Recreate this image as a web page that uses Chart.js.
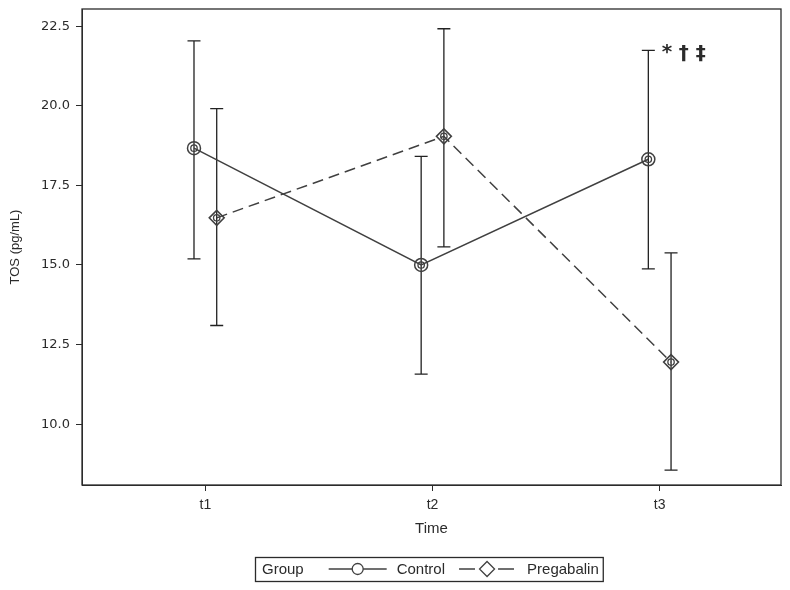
<!DOCTYPE html>
<html>
<head>
<meta charset="utf-8">
<script src="https://cdn.jsdelivr.net/npm/chart.js@4.4.1/dist/chart.umd.min.js"></script>
<style>
  html, body { margin: 0; padding: 0; background: #fff; }
</style>
</head>
<body>
<canvas id="chart" width="790" height="590"></canvas>
<script>
// ── Data ──────────────────────────────────────────────────────────────────────
const TIMES = ['t1', 't2', 't3'];
const CONTROL_MEAN = [18.67, 15.00, 18.32];
const CONTROL_LOW  = [15.19, 11.57, 14.88];
const CONTROL_HIGH = [22.04, 18.41, 21.74];
const PREGA_MEAN   = [16.48, 19.04, 11.95];
const PREGA_LOW    = [13.10, 15.57, 8.56];
const PREGA_HIGH   = [19.91, 22.42, 15.38];
const Y_TICKS      = [10.0, 12.5, 15.0, 17.5, 20.0, 22.5];
const SIG_MARKS    = ['*', '†', '‡'];   // shown above Control at t3
const SIG_INDEX    = 2;
const DODGE        = 0.05;              // group offset on the time axis

const INK   = '#2b2b2b';
const LINE  = '#404040';
const SANS  = '"Liberation Sans", Arial, sans-serif';

const pts = (arr, off) => arr.map((y, i) => ({ x: i + 1 + off, y }));

const series = [
    { label: 'Control',    mean: CONTROL_MEAN, low: CONTROL_LOW, high: CONTROL_HIGH, off: -DODGE },
    { label: 'Pregabalin', mean: PREGA_MEAN,   low: PREGA_LOW,   high: PREGA_HIGH,   off:  DODGE },
];

// ── Error bars (drawn under the markers) ──────────────────────────────────────
const errorBars = {
    id: 'errorBars',
    beforeDatasetsDraw(chart) {
        const { ctx, scales: { x, y } } = chart;
        ctx.save();
        ctx.strokeStyle = '#222';
        ctx.lineWidth = 1.3;
        series.forEach(s => {
            s.mean.forEach((_, i) => {
                const px = x.getPixelForValue(i + 1 + s.off);
                const top = y.getPixelForValue(s.high[i]);
                const bot = y.getPixelForValue(s.low[i]);
                ctx.beginPath();
                ctx.moveTo(px, top); ctx.lineTo(px, bot);
                ctx.moveTo(px - 6.5, top); ctx.lineTo(px + 6.5, top);
                ctx.moveTo(px - 6.5, bot); ctx.lineTo(px + 6.5, bot);
                ctx.stroke();
            });
        });
        ctx.restore();
    },
    afterDatasetsDraw(chart) {
        // inner ring inside every marker
        const ctx = chart.ctx;
        ctx.save();
        ctx.strokeStyle = LINE;
        ctx.lineWidth = 1.3;
        [0, 1].forEach(di => {
            chart.getDatasetMeta(di).data.forEach(p => {
                ctx.beginPath();
                ctx.arc(p.x, p.y, 3.2, 0, Math.PI * 2);
                ctx.stroke();
            });
        });
        ctx.restore();
    }
};

// ── Frame, significance marks and group legend ────────────────────────────────
const decorations = {
    id: 'decorations',
    afterDraw(chart) {
        const { ctx, chartArea: a, scales: { x, y } } = chart;
        ctx.save();

        ctx.strokeStyle = INK;
        ctx.lineWidth = 1.3;
        ctx.strokeRect(a.left, a.top, a.right - a.left, a.bottom - a.top);

        // significance marks
        ctx.fillStyle = INK;
        ctx.font = 'bold 20px "DejaVu Sans", sans-serif';
        ctx.textBaseline = 'middle';
        let sx = x.getPixelForValue(SIG_INDEX + 1) + 2;
        const sy = y.getPixelForValue(CONTROL_HIGH[SIG_INDEX]) + 3;
        SIG_MARKS.forEach(m => {
            ctx.fillText(m, sx, m === '*' ? sy - 1 : sy);
            sx += 17;
        });

        // legend
        ctx.font = '15px ' + SANS;
        ctx.fillStyle = INK;
        const wG = ctx.measureText('Group').width;
        const wC = ctx.measureText('Control').width;
        const wP = ctx.measureText('Pregabalin').width;
        const total = 7 + wG + 25 + 58 + 10 + wC + 14 + 55 + 13 + wP + 4;
        const bx = Math.round((a.left + a.right) / 2 - total / 2) - 3;
        const by = 557, bh = 24, cy = by + bh / 2;
        ctx.lineWidth = 1.3;
        ctx.strokeRect(bx + 0.5, by + 0.5, total, bh);

        let cx = bx + 7;
        ctx.fillText('Group', cx, cy + 1);
        cx += wG + 25;

        ctx.strokeStyle = LINE;
        ctx.beginPath(); ctx.moveTo(cx, cy); ctx.lineTo(cx + 58, cy); ctx.stroke();
        ctx.fillStyle = '#fff';
        ctx.beginPath(); ctx.arc(cx + 29, cy, 5.5, 0, Math.PI * 2); ctx.fill(); ctx.stroke();
        cx += 58 + 10;
        ctx.fillStyle = INK;
        ctx.fillText('Control', cx, cy + 1);
        cx += wC + 14;

        ctx.beginPath();
        ctx.moveTo(cx, cy); ctx.lineTo(cx + 16, cy);
        ctx.moveTo(cx + 39, cy); ctx.lineTo(cx + 55, cy);
        ctx.stroke();
        const dx = cx + 28;
        ctx.beginPath();
        ctx.moveTo(dx, cy - 7.5); ctx.lineTo(dx + 7.5, cy); ctx.lineTo(dx, cy + 7.5); ctx.lineTo(dx - 7.5, cy);
        ctx.closePath(); ctx.stroke();
        cx += 55 + 13;
        ctx.fillText('Pregabalin', cx, cy + 1);

        ctx.restore();
    }
};

// ── Chart ─────────────────────────────────────────────────────────────────────
new Chart(document.getElementById('chart'), {
    type: 'line',
    data: {
        datasets: [
            {
                label: 'Control', data: pts(CONTROL_MEAN, -DODGE),
                borderColor: LINE, borderWidth: 1.5,
                pointStyle: 'circle', pointRadius: 6.5,
                pointBorderColor: LINE, pointBorderWidth: 1.5,
                pointBackgroundColor: 'rgba(255,255,255,0)'
            },
            {
                label: 'Pregabalin', data: pts(PREGA_MEAN, DODGE),
                borderColor: LINE, borderWidth: 1.5, borderDash: [11, 6],
                pointStyle: 'rectRot', pointRadius: 7.5,
                pointBorderColor: LINE, pointBorderWidth: 1.5,
                pointBackgroundColor: 'rgba(255,255,255,0)'
            }
        ]
    },
    options: {
        responsive: false,
        animation: false,
        devicePixelRatio: 1,
        layout: { padding: { left: 0, right: 8, top: 7, bottom: 45 } },
        plugins: { legend: { display: false }, tooltip: { enabled: false } },
        scales: {
            x: {
                type: 'linear', min: 0.457, max: 3.534,
                afterBuildTicks: s => { s.ticks = TIMES.map((_, i) => ({ value: i + 1 })); },
                afterFit: s => { s.height = 60; s.paddingLeft = 0; s.paddingRight = 0; },
                ticks: {
                    callback: v => TIMES[v - 1] ?? '',
                    font: { family: SANS, size: 14 }, color: INK,
                    padding: 6, maxRotation: 0, autoSkip: false
                },
                grid: { drawOnChartArea: false, tickLength: 6, color: INK },
                border: { color: INK },
                title: {
                    display: true, text: 'Time', color: INK,
                    font: { family: SANS, size: 15 }, padding: { top: 4, bottom: 7 }
                }
            },
            y: {
                min: 8.09, max: 23.04,
                afterBuildTicks: s => { s.ticks = Y_TICKS.map(v => ({ value: v })); },
                afterFit: s => { s.width = 82; s.paddingTop = 0; s.paddingBottom = 0; },
                ticks: {
                    callback: v => Number(v).toFixed(1),
                    font: { family: '"DejaVu Sans", sans-serif', size: 13 }, color: INK,
                    padding: 6
                },
                grid: { drawOnChartArea: false, tickLength: 6, color: INK },
                border: { color: INK },
                title: {
                    display: true, text: 'TOS (pg/mL)', color: INK,
                    font: { family: SANS, size: 13 }, padding: { top: 8, bottom: 0 }
                }
            }
        }
    },
    plugins: [errorBars, decorations]
});
</script>
</body>
</html>
